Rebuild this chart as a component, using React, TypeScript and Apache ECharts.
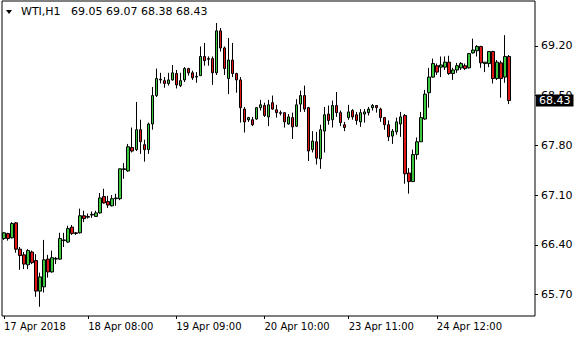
import React, { useEffect, useRef } from "react";
import * as echarts from "echarts";

const symbolName = "WTI,H1";

const opens = [
  66.49, 66.56, 66.50, 66.71, 66.34, 66.26, 66.12, 66.30, 66.18, 65.75,
  65.81, 66.20, 66.02, 66.20, 66.20, 66.46, 66.44, 66.65, 66.57, 66.57,
  66.81, 66.79, 66.82, 66.80, 66.85, 67.08, 67.01, 66.95, 67.05, 67.05,
  67.46, 67.44, 67.77, 67.74, 68.02, 67.81, 67.74, 68.10, 68.50, 68.72,
  68.71, 68.67, 68.72, 68.81, 68.64, 68.72, 68.88, 68.82, 68.76, 68.78,
  69.05, 69.02, 69.02, 68.82, 69.41, 69.17, 68.74, 69.00, 68.81, 68.72,
  68.31, 68.16, 68.16, 68.17, 68.33, 68.36, 68.20, 68.40, 68.30, 68.26,
  68.26, 68.10, 68.19, 68.07, 68.38, 68.50, 68.33, 67.74, 67.85, 67.61,
  68.00, 68.24, 68.16, 68.36, 68.26, 68.09, 68.19, 68.29, 68.23, 68.13,
  68.24, 68.26, 68.33, 68.36, 68.31, 68.19, 68.09, 67.93, 67.99, 68.10,
  68.22, 67.41, 67.29, 67.67, 67.85, 68.17, 68.54, 68.76, 68.92, 68.90,
  68.90, 68.97, 68.81, 68.86, 68.89, 68.92, 68.89, 69.10, 69.13, 69.19,
  68.95, 68.95, 69.12, 68.74, 68.96, 68.76, 69.05,
];

const highs = [
  66.58, 66.57, 66.72, 66.72, 66.37, 66.30, 66.34, 66.32, 66.27, 66.01,
  66.47, 66.26, 66.32, 66.23, 66.57, 66.57, 66.67, 66.68, 66.58, 66.91,
  66.88, 66.84, 66.87, 66.88, 67.13, 67.19, 67.09, 67.10, 67.12, 67.47,
  67.55, 67.82, 68.05, 68.41, 68.16, 67.88, 68.12, 68.62, 68.88, 68.82,
  68.76, 68.82, 68.93, 68.86, 68.82, 68.90, 68.89, 68.85, 68.83, 69.19,
  69.24, 69.05, 69.05, 69.52, 69.45, 69.19, 69.31, 69.24, 68.82, 68.76,
  68.34, 68.20, 68.20, 68.34, 68.44, 68.40, 68.44, 68.50, 68.37, 68.29,
  68.26, 68.24, 68.26, 68.45, 68.57, 68.64, 68.34, 68.00, 67.99, 68.09,
  68.34, 68.36, 68.43, 68.55, 68.29, 68.13, 68.37, 68.31, 68.27, 68.31,
  68.31, 68.34, 68.38, 68.36, 68.33, 68.20, 68.15, 68.03, 68.19, 68.27,
  68.24, 67.48, 67.74, 67.91, 68.27, 68.58, 68.89, 69.02, 68.95, 69.05,
  69.05, 69.06, 68.89, 68.96, 68.97, 68.95, 69.10, 69.30, 69.21, 69.20,
  68.97, 69.12, 69.13, 69.00, 68.99, 69.35, 69.07,
];

const lows = [
  66.47, 66.46, 66.49, 66.29, 66.05, 66.06, 66.06, 66.13, 65.67, 65.53,
  65.73, 65.94, 66.01, 66.13, 66.19, 66.37, 66.43, 66.54, 66.54, 66.56,
  66.72, 66.77, 66.78, 66.80, 66.84, 66.98, 66.92, 66.94, 66.95, 67.03,
  67.33, 67.43, 67.70, 67.72, 67.68, 67.57, 67.68, 68.02, 68.48, 68.67,
  68.61, 68.64, 68.71, 68.60, 68.62, 68.69, 68.78, 68.72, 68.68, 68.78,
  68.92, 68.92, 68.65, 68.79, 69.12, 68.79, 68.52, 68.76, 68.54, 68.12,
  67.98, 68.13, 68.07, 68.16, 68.29, 68.20, 68.07, 68.30, 68.19, 68.22,
  68.05, 68.09, 67.89, 68.06, 68.27, 68.27, 67.58, 67.70, 67.53, 67.47,
  67.70, 68.09, 68.05, 68.20, 68.07, 68.00, 68.16, 68.16, 68.09, 68.06,
  68.12, 68.22, 68.29, 68.26, 68.13, 68.02, 67.86, 67.82, 67.95, 67.92,
  67.26, 67.12, 67.29, 67.60, 67.85, 68.16, 68.33, 68.75, 68.79, 68.76,
  68.86, 68.79, 68.72, 68.82, 68.86, 68.86, 68.88, 69.09, 69.05, 68.89,
  68.83, 68.90, 68.67, 68.72, 68.47, 68.68, 68.38,
];

const closes = [
  66.57, 66.49, 66.70, 66.34, 66.25, 66.13, 66.32, 66.15, 65.75, 65.95,
  66.19, 66.02, 66.22, 66.21, 66.49, 66.47, 66.63, 66.56, 66.56, 66.81,
  66.77, 66.80, 66.83, 66.85, 67.06, 66.99, 66.96, 67.05, 67.06, 67.47,
  67.47, 67.78, 67.72, 68.02, 67.85, 67.74, 68.10, 68.50, 68.74, 68.73,
  68.67, 68.72, 68.82, 68.65, 68.71, 68.88, 68.82, 68.75, 68.77, 69.05,
  68.99, 69.01, 68.82, 69.41, 69.17, 68.88, 69.00, 68.81, 68.72, 68.33,
  68.13, 68.19, 68.09, 68.33, 68.37, 68.22, 68.37, 68.31, 68.26, 68.25,
  68.13, 68.20, 68.06, 68.37, 68.50, 68.31, 67.72, 67.86, 67.62, 68.02,
  68.23, 68.15, 68.36, 68.26, 68.12, 68.05, 68.27, 68.20, 68.15, 68.26,
  68.27, 68.31, 68.36, 68.33, 68.19, 68.09, 67.92, 68.00, 68.13, 68.20,
  67.40, 67.29, 67.67, 67.85, 68.19, 68.52, 68.76, 68.95, 68.83, 68.93,
  68.97, 68.81, 68.86, 68.92, 68.95, 68.88, 69.09, 69.14, 69.19, 68.96,
  68.97, 69.12, 68.74, 68.97, 68.74, 69.05, 68.43,
];

// time labels shown on the x axis and the bar slot where each sits
const timeLabels = ["17 Apr 2018", "18 Apr 08:00", "19 Apr 09:00", "20 Apr 10:00", "23 Apr 11:00", "24 Apr 12:00"];
const timeLabelSlots = [0, 21, 43, 65, 86, 108];

// price scale labels
const priceTicks = [65.7, 66.4, 67.1, 67.8, 68.5, 69.2];

// empty slots kept on the right (chart shift)
const emptySlots = 6;

export default function App() {
  const ref = useRef<HTMLDivElement>(null);

  useEffect(() => {
    if (!ref.current) return;
    const chart = echarts.init(ref.current, null, { renderer: "svg" });
    const n = opens.length;
    const slots = Array.from({ length: n + emptySlots }, (_, i) => String(i));
    const candles = opens.map((o, i) => [o, closes[i], lows[i], highs[i]]);
    const last = n - 1;
    const titleText =
      symbolName + "   " +
      [opens[last], highs[last], lows[last], closes[last]].map((v) => v.toFixed(2)).join(" ");
    const showSlot = (idx: number) => timeLabelSlots.indexOf(idx) >= 0;

    chart.setOption({
      animation: false,
      backgroundColor: "#ffffff",
      title: {
        text: titleText,
        left: 21,
        top: 6,
        padding: 0,
        textStyle: {
          fontFamily: "DejaVu Sans",
          fontSize: 11,
          fontWeight: "normal",
          color: "#000000",
        },
      },
      graphic: [
        {
          type: "polygon",
          shape: { points: [[6, 10], [12, 10], [9, 14]] },
          style: { fill: "#000000" },
        },
      ],
      grid: {
        left: 2,
        right: 45,
        top: 1,
        bottom: 24,
        show: true,
        borderColor: "#000000",
        borderWidth: 1,
        backgroundColor: "transparent",
      },
      xAxis: {
        type: "category",
        data: slots,
        boundaryGap: true,
        axisLine: { show: false },
        axisTick: {
          show: true,
          alignWithLabel: true,
          length: 3,
          interval: (idx: number) => showSlot(idx),
          lineStyle: { color: "#000000" },
        },
        axisLabel: {
          show: true,
          interval: (idx: number) => showSlot(idx),
          formatter: (_v: string, idx: number) => {
            const k = timeLabelSlots.indexOf(idx);
            return k >= 0 ? timeLabels[k] : "";
          },
          align: "left",
          margin: 5,
          fontFamily: "DejaVu Sans",
          fontSize: 10,
          color: "#000000",
        },
        splitLine: { show: false },
      },
      yAxis: {
        type: "value",
        position: "right",
        min: 65.4,
        max: 69.83,
        scale: true,
        axisLine: { show: false },
        axisTick: {
          show: true,
          length: 3,
          customValues: priceTicks,
          lineStyle: { color: "#000000" },
        },
        axisLabel: {
          show: true,
          customValues: priceTicks,
          formatter: (v: number) => v.toFixed(2),
          margin: 6,
          fontFamily: "DejaVu Sans",
          fontSize: 11,
          color: "#000000",
        },
        splitLine: { show: false },
      },
      series: [
        {
          type: "candlestick",
          data: candles,
          barWidth: 3,
          clip: false,
          itemStyle: {
            color: "#3cc83c",
            color0: "#e01515",
            borderColor: "#000000",
            borderColor0: "#000000",
            borderColorDoji: "#000000",
            borderWidth: 1,
          },
          markLine: {
            silent: true,
            symbol: ["none", "none"],
            lineStyle: { color: "rgba(0,0,0,0)", width: 1, type: "solid" },
            data: [{ yAxis: closes[last] }],
            label: {
              show: true,
              position: "end",
              distance: 1,
              formatter: closes[last].toFixed(2),
              color: "#ffffff",
              backgroundColor: "#000000",
              padding: [1, 3, 0, 3],
              fontFamily: "DejaVu Sans",
              fontSize: 11,
            },
          },
        },
      ],
    });

    return () => chart.dispose();
  }, []);

  return (
    <div
      ref={ref}
      style={{ position: "absolute", left: 0, top: 0, width: 580, height: 340 }}
    />
  );
}
